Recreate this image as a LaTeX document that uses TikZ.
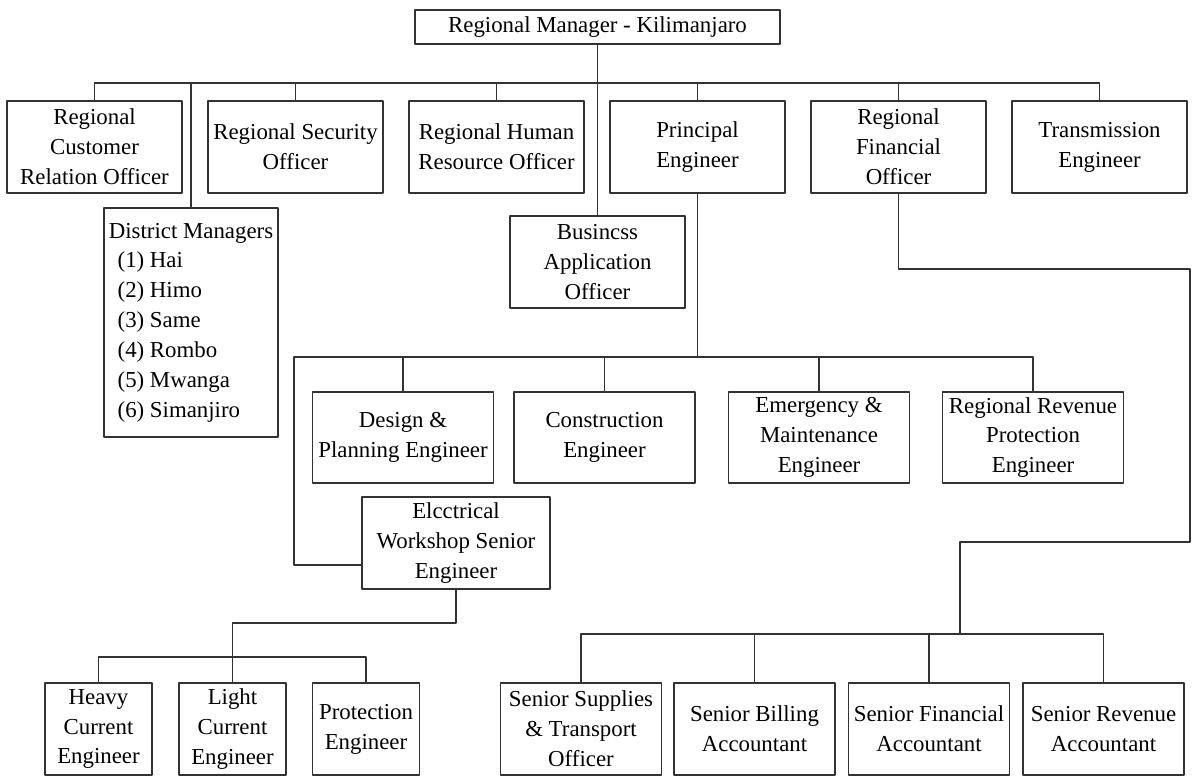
\documentclass[tikz,border=0pt]{standalone}
\usepackage{fontspec}
\setmainfont{Liberation Serif}
\begin{document}
\begin{tikzpicture}[x=0.02cm, y=-0.02cm, font=\fontsize{13}{17}\selectfont, line join=round,
	post/.style={draw=black!80, line width=0.7pt, align=center, inner sep=1pt, minimum height=1.84cm},
	conn/.style={draw=black!80, line width=0.7pt}]
	\useasboundingbox (0,0) rectangle (1192,776);
	% top level
	\node[post, minimum width=7.3cm, minimum height=0.68cm] (rm) at (597.5,27) {Regional Manager - Kilimanjaro};
	\node[post, minimum width=3.5cm] (rcro) at (94.5,147) {Regional\\ Customer\\ Relation Officer};
	\node[post, minimum width=3.5cm] (rso) at (295.5,147) {Regional Security\\ Officer};
	\node[post, minimum width=3.5cm] (rhro) at (496.5,147) {Regional Human\\ Resource Officer};
	\node[post, minimum width=3.5cm] (pe) at (697.5,147) {Principal\\ Engineer};
	\node[post, minimum width=3.5cm] (rfo) at (898.5,147) {Regional\\ Financial\\ Officer};
	\node[post, minimum width=3.5cm] (te) at (1099.5,147) {Transmission\\ Engineer};
	\node[post, minimum width=3.48cm, minimum height=4.58cm, align=left] (dm) at (191,322.5)
		{District Managers\\ \hspace*{5pt}(1) Hai\\ \hspace*{5pt}(2) Himo\\ \hspace*{5pt}(3) Same\\
		 \hspace*{5pt}(4) Rombo\\ \hspace*{5pt}(5) Mwanga\\ \hspace*{5pt}(6) Simanjiro};
	\node[post, minimum width=3.5cm] (bao) at (597.5,262) {Busincss\\ Application\\ Officer};
	%=== engineers
	\node[post, minimum width=3.62cm, minimum height=1.82cm] (dpe) at (403,437.5) {Design \&\\ Planning Engineer};
	\node[post, minimum width=3.62cm, minimum height=1.82cm] (ce) at (604.5,437.5) {Construction\\ Engineer};
	\node[post, minimum width=3.62cm, minimum height=1.82cm] (eme) at (819,437.5) {Emergency \&\\ Maintenance\\ Engineer};
	\node[post, minimum width=3.62cm, minimum height=1.82cm] (rrpe) at (1033,437.5) {Regional Revenue\\ Protection\\ Engineer};
	\node[post, minimum width=3.76cm] (ewse) at (456,543) {Elcctrical\\ Workshop Senior\\ Engineer};
	%=== bottom row
	\node[post, minimum width=2.14cm] (hce) at (98.5,729) {Heavy\\ Current\\ Engineer};
	\node[post, minimum width=2.14cm] (lce) at (232.5,729) {Light\\ Current\\ Engineer};
	\node[post, minimum width=2.14cm] (pre) at (366,729) {Protection\\ Engineer};
	\node[post, minimum width=3.22cm] (sst) at (581,729) {Senior Supplies\\ \& Transport\\ Officer};
	\node[post, minimum width=3.22cm] (sba) at (754.5,729) {Senior Billing\\ Accountant};
	\node[post, minimum width=3.22cm] (sfa) at (929,729) {Senior Financial\\ Accountant};
	\node[post, minimum width=3.22cm] (sra) at (1103.5,729) {Senior Revenue\\ Accountant};
	% joints
	\coordinate (bus) at (597.5,83);
	\coordinate (pel) at (294,357);
	\coordinate (ewb) at (232.5,623);
	\coordinate (ewbus) at (232.5,657);
	\coordinate (fa) at (1190,269);
	\coordinate (fb) at (960,542);
	\coordinate (fbus) at (960,634);
	% connectors
	\draw[conn] (rm.south) -- (bao.north);
	\draw[conn] (rcro.north) |- (bus) -| (te.north);
	\foreach \n in {rso,rhro,pe,rfo,dm}
		\draw[conn] (\n.north) -- (\n.north |- bus);
	\draw[conn] (pe.south) -- (pe.south |- pel);
	\draw[conn] ([yshift=-0.44cm]ewse.west) -| (pel) -| (rrpe.north);
	\foreach \n in {dpe,ce,eme}
		\draw[conn] (\n.north) -- (\n.north |- pel);
	\draw[conn] (ewse.south) |- (ewb) -- (lce.north);
	\draw[conn] (hce.north) |- (ewbus) -| (pre.north);
	\draw[conn] (rfo.south) |- (fa) |- (fb) -- (fbus);
	\draw[conn] (sst.north) |- (fbus) -| (sra.north);
	\foreach \n in {sba,sfa}
		\draw[conn] (\n.north) -- (\n.north |- fbus);
\end{tikzpicture}
\end{document}
